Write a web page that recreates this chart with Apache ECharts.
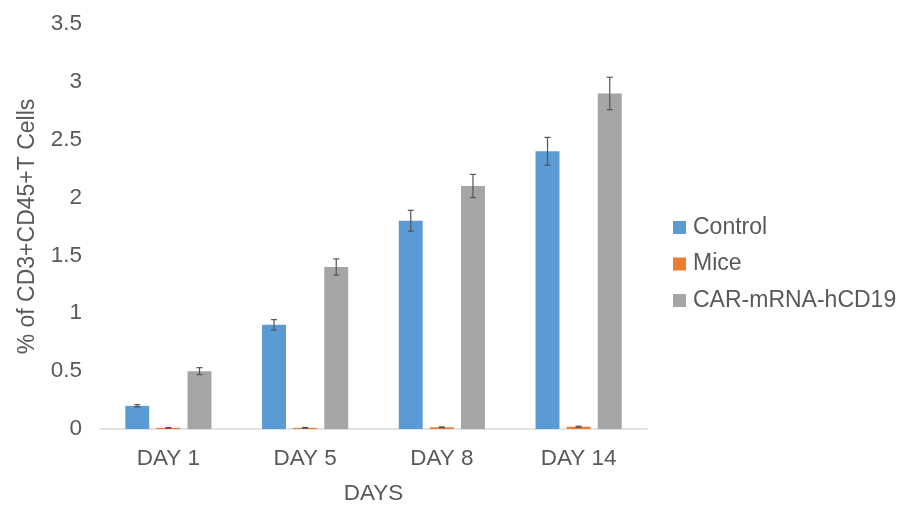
<!DOCTYPE html>
<html>
<head>
<meta charset="utf-8">
<script src="https://cdn.jsdelivr.net/npm/echarts@6/dist/echarts.min.js"></script>
<style>html,body{margin:0;padding:0;background:#fff;}#chart{width:919px;height:528px;}</style>
</head>
<body>
<div id="chart"></div>
<script>
const categories = ['DAY 1', 'DAY 5', 'DAY 8', 'DAY 14'];
const seriesNames = ['Control', 'Mice', 'CAR-mRNA-hCD19'];
const controlValues = [0.2, 0.9, 1.8, 2.4];
const miceValues = [0.01, 0.01, 0.015, 0.02];
const carValues = [0.5, 1.4, 2.1, 2.9];
const controlErr = [0.01, 0.045, 0.09, 0.12];
const miceErr = [0.003, 0.003, 0.003, 0.004];
const carErr = [0.03, 0.07, 0.1, 0.14];
const yTicks = { min: 0, max: 3.5, interval: 0.5 };

const colors = ['#5B9BD5', '#ED7D31', '#A5A5A5'];
const FONT = "'Liberation Sans', Arial, sans-serif";
const TXT = '#595959';
const CAT_GAP = 0.37, BAR_GAP = 0.3, N = 3;

const valueSets = [controlValues, miceValues, carValues];
const errSets = [controlErr, miceErr, carErr];

function errRender(idx) {
  return function (params, api) {
    const cat = api.value(0);
    const lo = api.coord([cat, api.value(1)]);
    const hi = api.coord([cat, api.value(2)]);
    const cw = api.size([1, 0])[0];
    const total = cw * (1 - CAT_GAP);
    const bw = total / (N + (N - 1) * BAR_GAP);
    const off = -total / 2 + idx * bw * (1 + BAR_GAP) + bw / 2;
    const x = lo[0] + off;
    const cap = 3;
    const style = { stroke: '#555555', lineWidth: 1.2 };
    return {
      type: 'group',
      children: [
        { type: 'line', shape: { x1: x, y1: lo[1], x2: x, y2: hi[1] }, style },
        { type: 'line', shape: { x1: x - cap, y1: hi[1], x2: x + cap, y2: hi[1] }, style },
        { type: 'line', shape: { x1: x - cap, y1: lo[1], x2: x + cap, y2: lo[1] }, style }
      ]
    };
  };
}

const series = [];
seriesNames.forEach((name, i) => {
  series.push({
    name, type: 'bar', data: valueSets[i],
    itemStyle: { color: colors[i] },
    barGap: (BAR_GAP * 100) + '%', barCategoryGap: (CAT_GAP * 100) + '%'
  });
});
seriesNames.forEach((name, i) => {
  series.push({
    type: 'custom', name: name + ' err',
    renderItem: errRender(i),
    encode: { x: 0, y: [1, 2] },
    data: valueSets[i].map((v, k) => [k, v - errSets[i][k], v + errSets[i][k]]),
    z: 10, silent: true
  });
});

const chart = echarts.init(document.getElementById('chart'));
chart.setOption({
  animation: false,
  textStyle: { fontFamily: FONT },
  grid: { left: 100, right: 272, top: 24, bottom: 99 },
  legend: {
    data: seriesNames, orient: 'vertical', left: 668, top: 211,
    itemWidth: 13, itemHeight: 13, itemGap: 13.5,
    icon: 'rect',
    textStyle: { fontSize: 23, color: TXT, fontFamily: FONT, padding: [0, 0, 0, 2] }
  },
  xAxis: {
    type: 'category', data: categories,
    name: 'DAYS', nameLocation: 'middle', nameGap: 53,
    nameTextStyle: { fontSize: 22.5, color: TXT, fontFamily: FONT },
    axisLine: { lineStyle: { color: '#D9D9D9', width: 1.5 } },
    axisTick: { show: false },
    axisLabel: { fontSize: 22.5, color: TXT, margin: 18, fontFamily: FONT }
  },
  yAxis: {
    type: 'value', min: yTicks.min, max: yTicks.max, interval: yTicks.interval,
    name: '% of CD3+CD45+T Cells', nameLocation: 'middle', nameGap: 61,
    nameTextStyle: { fontSize: 23, color: TXT, fontFamily: FONT },
    axisLine: { show: false }, axisTick: { show: false },
    splitLine: { show: false },
    axisLabel: { fontSize: 22.5, color: TXT, margin: 18, fontFamily: FONT }
  },
  series
});
</script>
</body>
</html>
